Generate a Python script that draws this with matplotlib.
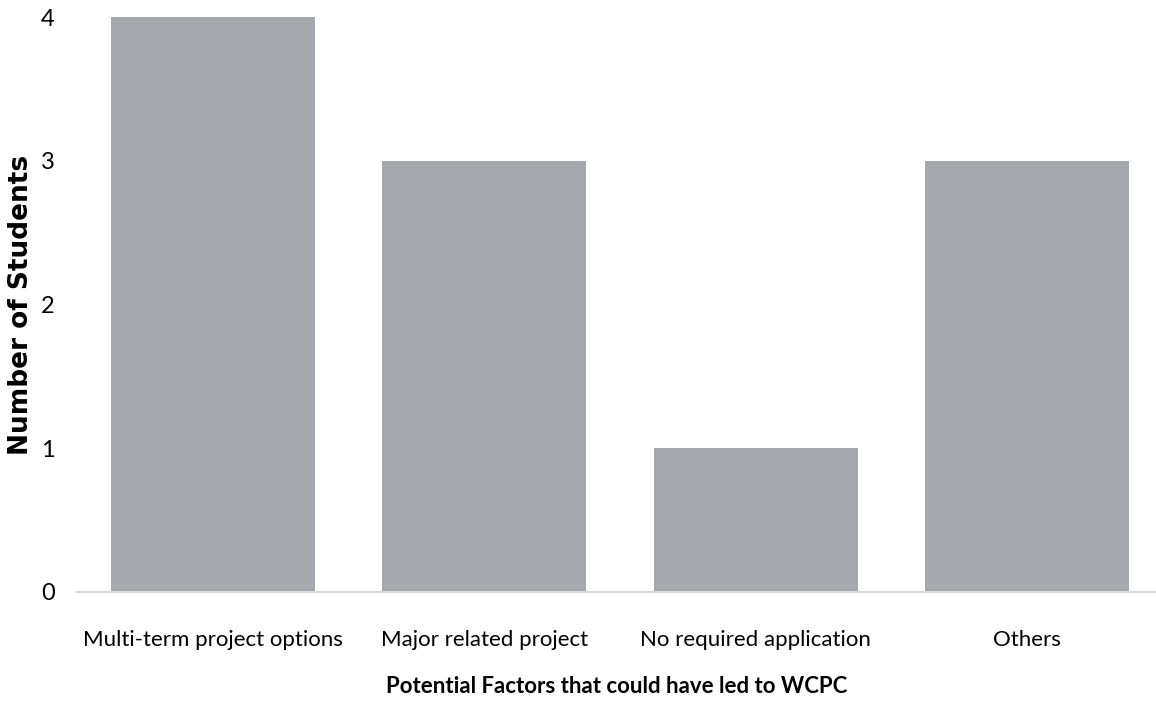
import matplotlib.pyplot as plt

factors = ["Multi-term project options", "Major related project",
           "No required application", "Others"]
students = [4, 3, 1, 3]
yticks = [0, 1, 2, 3, 4]

label_font = ["Liberation Sans Narrow", "Lato", "DejaVu Sans"]

fig = plt.figure(figsize=(11.56, 7.02), dpi=100)
ax = fig.add_axes([77 / 1156, 110 / 702, 1086 / 1156, 575 / 702])

x = range(len(factors))
ax.bar(x, students, width=0.75, color="#a5a8ac")

ax.set_xlim(-0.5, len(factors) - 0.5)
ax.set_ylim(0, 4)
ax.set_yticks(yticks)
ax.set_xticks(list(x))
ax.set_xticklabels(factors, fontsize=16, family=label_font)
ax.set_yticklabels([str(v) for v in yticks], fontsize=17, family=label_font)
ax.tick_params(axis="y", length=0, pad=16)
ax.tick_params(axis="x", length=0, pad=27)

for s in ["top", "right", "left"]:
    ax.spines[s].set_visible(False)
ax.spines["bottom"].set_color("#d9d9d9")
ax.spines["bottom"].set_linewidth(1.5)

ax.set_xlabel("Potential Factors that could have led to WCPC", fontsize=16,
              fontweight="bold", family=label_font)
ax.xaxis.set_label_coords(540 / 1086, -84 / 575)
ax.set_ylabel("Number of Students", fontsize=19, fontweight="bold",
              family="DejaVu Sans")
ax.yaxis.set_label_coords(-43 / 1086, 0.5)

fig.savefig("out.png", dpi=100)
